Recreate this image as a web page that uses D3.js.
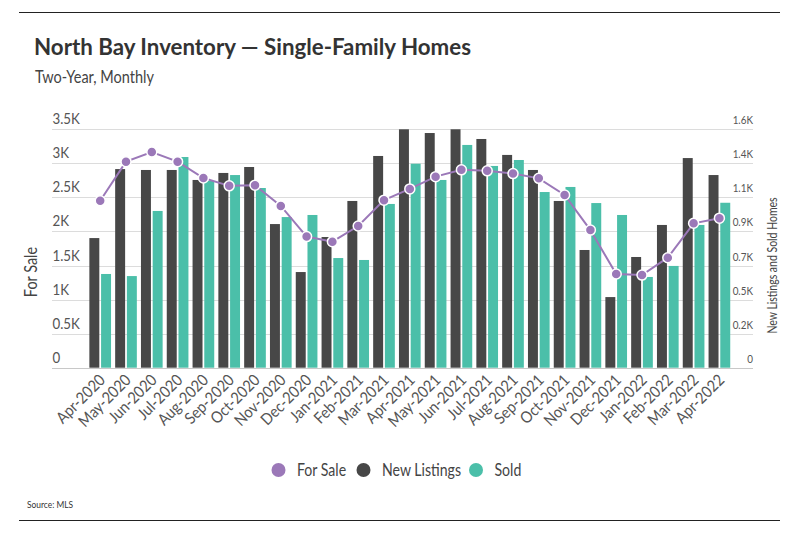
<!DOCTYPE html>
<html>
<head>
  <meta charset="UTF-8">
  <title>North Bay Inventory</title>
  <style>
    body { margin: 0; background: #fff; font-family: Lato, sans-serif; }
    svg text { fill: #555; }
  </style>
</head>
<body>
  <div id="chart"></div>
  <script src="https://cdn.jsdelivr.net/npm/d3@7/dist/d3.min.js"></script>
  <script>
    // months, Apr-2020 .. Apr-2022
    var months = ["Apr-2020", "May-2020", "Jun-2020", "Jul-2020", "Aug-2020", "Sep-2020", "Oct-2020",
      "Nov-2020", "Dec-2020", "Jan-2021", "Feb-2021", "Mar-2021", "Apr-2021", "May-2021", "Jun-2021",
      "Jul-2021", "Aug-2021", "Sep-2021", "Oct-2021", "Nov-2021", "Dec-2021", "Jan-2022", "Feb-2022",
      "Mar-2022", "Apr-2022"];

    var forSale = [2450, 3025, 3165, 3025, 2785, 2670, 2680, 2375, 1925, 1850, 2080, 2460, 2625,
      2805, 2905, 2890, 2850, 2780, 2535, 2020, 1375, 1360, 1615, 2120, 2195];

    var newListings = [870, 1333, 1327, 1327, 1260, 1307, 1347, 964, 642, 877, 1119, 1421, 1600,
      1575, 1600, 1535, 1428, 1327, 1119, 790, 474, 743, 958, 1407, 1293];

    var sold = [629, 615, 1052, 1414, 1253, 1293, 1206, 1011, 1025, 736, 723, 1099, 1369,
      1260, 1495, 1354, 1394, 1179, 1213, 1105, 1025, 609, 683, 958, 1107];

    var leftTicks = [0, 500, 1000, 1500, 2000, 2500, 3000, 3500];
    var rightTicks = d3.range(8).map(function (i) { return i * 1600 / 7; });

    var colors = { forSale: "#9b78b8", newListings: "#474747", sold: "#4bbfa9" };

    var width = 800, height = 533;
    var plotTop = 129.3, plotBottom = 367.7;

    var svg = d3.select('#chart').append('svg')
      .attr('width', width)
      .attr('height', height);

    // the original uses a narrow face; squeeze Lato horizontally
    function narrow(px, py, sx, rot) {
      return 'translate(' + px + ',' + py + ')' + (rot ? ' rotate(' + rot + ')' : '') + ' scale(' + sx + ',1)';
    }

    // frame rules
    svg.append('line').attr('x1', 19).attr('x2', 780).attr('y1', 12.5).attr('y2', 12.5)
      .attr('stroke', '#222').attr('stroke-width', 1.2);
    svg.append('line').attr('x1', 19).attr('x2', 780).attr('y1', 520.5).attr('y2', 520.5)
      .attr('stroke', '#222').attr('stroke-width', 1.2);

    svg.append('text').text('North Bay Inventory \u2014 Single-Family Homes')
      .attr('x', 34).attr('y', 55)
      .style('font-size', '22.3px').style('font-weight', 'bold').style('fill', '#333');
    svg.append('text').text('Two-Year, Monthly')
      .attr('transform', narrow(35, 83, 0.88))
      .style('font-size', '16.5px').style('fill', '#444');

    var x = d3.scaleBand().domain(months).range([87.3, 732.3]).paddingInner(0.16).paddingOuter(0.08);
    var xInner = d3.scaleBand().domain(['newListings', 'sold']).range([0, x.bandwidth()]).paddingInner(0.15);
    var yLeft = d3.scaleLinear().domain([0, 3500]).range([plotBottom, plotTop]);
    var yRight = d3.scaleLinear().domain([0, 1600]).range([plotBottom, plotTop]);

    // grid
    svg.append('g').selectAll('line')
      .data(leftTicks).enter().append('line')
      .attr('x1', 52).attr('x2', 753)
      .attr('y1', function (d) { return Math.round(yLeft(d)) + 0.5; })
      .attr('y2', function (d) { return Math.round(yLeft(d)) + 0.5; })
      .attr('stroke', function (d) { return d === 0 ? '#c8c8c8' : '#dcdcdc'; })
      .attr('stroke-width', 1);

    // left axis labels
    svg.append('g').selectAll('text')
      .data(leftTicks).enter().append('text')
      .attr('transform', function (d) { return narrow(52.5, yLeft(d) - 5, 0.86); })
      .text(function (d) { return d === 0 ? '0' : (d / 1000) + 'K'; })
      .style('font-size', '15.5px').style('fill', '#555');

    // right axis labels
    svg.append('g').selectAll('text')
      .data(rightTicks).enter().append('text')
      .attr('transform', function (d) { return narrow(753, yRight(d) - 5, 0.86); })
      .attr('text-anchor', 'end')
      .text(function (d) { return d === 0 ? '0' : (d / 1000).toFixed(1) + 'K'; })
      .style('font-size', '11.5px').style('fill', '#555');

    // axis titles
    svg.append('text').text('For Sale')
      .attr('transform', narrow(37, 272, 0.85, -90))
      .attr('text-anchor', 'middle')
      .style('font-size', '17px').style('fill', '#444');
    svg.append('text').text('New Listings and Sold Homes')
      .attr('transform', narrow(776.5, 265.5, 0.84, -90))
      .attr('text-anchor', 'middle')
      .style('font-size', '12.5px').style('fill', '#444');

    // bars
    var groups = svg.append('g').selectAll('g')
      .data(months).enter().append('g')
      .attr('transform', function (d) { return 'translate(' + x(d) + ',0)'; });

    groups.append('rect')
      .attr('x', xInner('newListings'))
      .attr('width', xInner.bandwidth())
      .attr('y', function (d, i) { return yRight(newListings[i]); })
      .attr('height', function (d, i) { return plotBottom - yRight(newListings[i]); })
      .attr('fill', colors.newListings);

    groups.append('rect')
      .attr('x', xInner('sold'))
      .attr('width', xInner.bandwidth())
      .attr('y', function (d, i) { return yRight(sold[i]); })
      .attr('height', function (d, i) { return plotBottom - yRight(sold[i]); })
      .attr('fill', colors.sold);

    // for sale line
    var cx = function (d, i) { return x(months[i]) + x.bandwidth() / 2; };
    var line = d3.line()
      .x(cx)
      .y(function (d) { return yLeft(d); });

    svg.append('path')
      .datum(forSale)
      .attr('d', line)
      .attr('fill', 'none')
      .attr('stroke', colors.forSale)
      .attr('stroke-width', 2);

    svg.append('g').selectAll('circle')
      .data(forSale).enter().append('circle')
      .attr('cx', cx)
      .attr('cy', function (d) { return yLeft(d); })
      .attr('r', 5)
      .attr('fill', colors.forSale)
      .attr('stroke', '#fff')
      .attr('stroke-width', 1.5);

    // x labels
    svg.append('g').selectAll('text')
      .data(months).enter().append('text')
      .attr('transform', function (d) {
        return narrow(x(d) + x.bandwidth() / 2 + 6, 381, 0.9, -45);
      })
      .attr('text-anchor', 'end')
      .text(function (d) { return d; })
      .style('font-size', '16px').style('fill', '#555');

    // legend
    var legend = [
      { label: 'For Sale', color: colors.forSale, x: 278.5 },
      { label: 'New Listings', color: colors.newListings, x: 363.5 },
      { label: 'Sold', color: colors.sold, x: 476 }
    ];
    var lg = svg.append('g').selectAll('g')
      .data(legend).enter().append('g')
      .attr('transform', function (d) { return 'translate(' + d.x + ',470)'; });
    lg.append('circle').attr('r', 7).attr('fill', function (d) { return d.color; });
    lg.append('text').text(function (d) { return d.label; })
      .attr('transform', narrow(18.5, 6, 0.83))
      .style('font-size', '17px').style('fill', '#444');

    svg.append('text').text('Source: MLS')
      .attr('transform', narrow(27, 507.5, 0.84))
      .style('font-size', '10px').style('fill', '#333');
  </script>
</body>
</html>
